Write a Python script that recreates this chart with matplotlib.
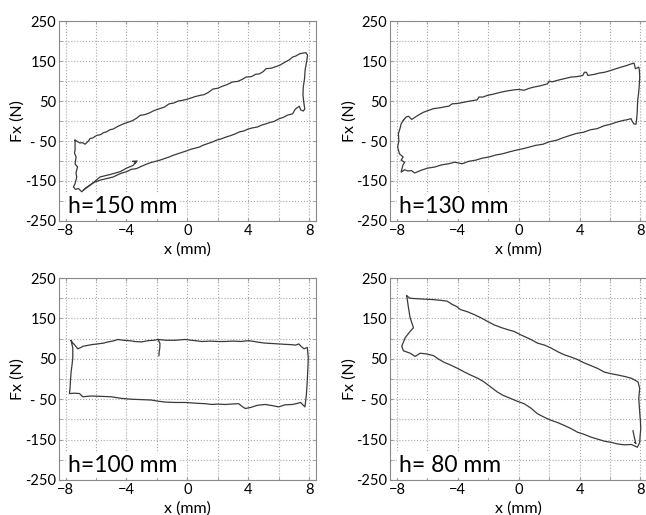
"""Fx - x hysteresis loops for four heights h (2 x 2 panels)."""
import matplotlib.pyplot as plt
from matplotlib.ticker import MultipleLocator, FixedLocator

plt.rcParams["font.family"] = ["Lato", "DejaVu Sans"]

# ---------------------------------------------------------------------------
# data: (x in mm, Fx in N) along each loop
# ---------------------------------------------------------------------------
loop_150 = [
    (-7.38, -48), (-7.2, -52), (-7.05, -55), (-6.9, -54), (-6.72, -58), (-6.5, -50),
    (-6.4, -44), (-6.2, -42), (-5.96, -36), (-5.7, -34), (-5.5, -29), (-5.3, -27),
    (-5.1, -22), (-4.87, -20), (-4.6, -14), (-4.43, -11), (-4.2, -7), (-3.9, -3),
    (-3.6, 1), (-3.3, 8), (-3.12, 14), (-2.8, 16), (-2.5, 20), (-2.2, 26),
    (-1.81, 31), (-1.5, 35), (-1.2, 43), (-0.9, 45), (-0.6, 50), (-0.3, 52),
    (-0.07, 54), (0.2, 57), (0.5, 61), (0.81, 64), (1.1, 66), (1.4, 72),
    (1.68, 80), (2.0, 82), (2.3, 87), (2.6, 91), (2.99, 98), (3.3, 99),
    (3.6, 104), (3.86, 110), (4.2, 111), (4.5, 117), (4.74, 118), (5.0, 124),
    (5.17, 131), (5.5, 132), (5.8, 136), (6.05, 139), (6.4, 147), (6.7, 153),
    (6.92, 160), (7.15, 163), (7.36, 168), (7.6, 170), (7.79, 171), (7.9, 165),
    (7.85, 150), (7.75, 130), (7.7, 105), (7.62, 85), (7.6, 65), (7.66, 45),
    (7.72, 30), (7.62, 25), (7.45, 28), (7.36, 37),
    (7.1, 30), (6.92, 18), (6.6, 15), (6.3, 9), (6.05, 6), (5.7, -1),
    (5.4, -4), (5.17, -7), (4.9, -10), (4.6, -15), (4.3, -17), (4.0, -20),
    (3.7, -25), (3.43, -27), (3.1, -33), (2.8, -37), (2.55, -40), (2.2, -45),
    (1.9, -48), (1.68, -52), (1.3, -57), (1.0, -61), (0.81, -65), (0.5, -68),
    (0.2, -71), (-0.07, -75), (-0.4, -79), (-0.7, -83), (-0.94, -86), (-1.2, -90),
    (-1.5, -94), (-1.81, -98), (-2.1, -101), (-2.4, -104), (-2.69, -108), (-3.0, -113),
    (-3.34, -119), (-3.7, -121), (-4.0, -127), (-4.3, -130), (-4.6, -135), (-4.87, -140),
    (-5.2, -143), (-5.5, -146), (-5.74, -148), (-6.1, -153), (-6.4, -160), (-6.7, -168),
    (-6.94, -177), (-7.16, -169), (-7.35, -171), (-7.49, -165),
    (-7.38, -157), (-7.27, -140), (-7.32, -130), (-7.27, -123), (-7.22, -115),
    (-7.38, -107), (-7.31, -90), (-7.42, -80), (-7.38, -73), (-7.38, -48),
]
inner_150 = [(-6.83, -173), (-6.3, -158), (-5.74, -140), (-5.1, -134), (-4.43, -127),
             (-4.0, -118), (-3.56, -111), (-3.38, -102), (-3.6, -101), (-3.3, -100),
             (-3.45, -106)]

loop_130 = [
    (-7.58, 2), (-7.4, 10), (-7.25, 12), (-7.03, 4), (-6.8, 10), (-6.5, 17),
    (-6.26, 22), (-5.9, 27), (-5.6, 31), (-5.2, 33), (-4.8, 36), (-4.6, 37),
    (-4.38, 43), (-4.0, 44), (-3.61, 47), (-3.2, 50), (-2.73, 53), (-2.62, 60),
    (-2.35, 60), (-2.07, 64), (-1.7, 67), (-1.19, 72), (-0.8, 75), (-0.31, 78),
    (0.0, 79), (0.35, 77), (0.7, 82), (1.01, 85), (1.4, 88), (1.89, 93),
    (2.0, 100), (2.2, 98), (2.56, 102), (3.0, 106), (3.44, 110), (3.8, 111),
    (4.21, 114), (4.32, 122), (4.45, 122), (4.54, 114), (5.0, 117), (5.3, 120),
    (5.64, 122), (6.0, 126), (6.4, 131), (6.74, 135), (7.1, 139), (7.4, 143),
    (7.58, 145), (7.67, 131), (7.8, 133), (7.89, 135), (7.93, 127),
    (7.95, 110), (7.93, 93), (7.88, 70), (7.82, 52), (7.8, 35), (7.78, 18),
    (7.75, 5), (7.71, -8), (7.56, -7), (7.45, 0), (7.38, 6),
    (7.1, 3), (6.93, 2), (6.5, -2), (6.04, -8), (5.6, -12), (5.16, -19),
    (4.7, -22), (4.27, -28), (3.8, -31), (3.38, -36), (2.9, -42), (2.49, -48),
    (2.0, -52), (1.6, -58), (1.1, -61), (0.71, -65), (0.3, -69), (-0.18, -73),
    (-0.6, -77), (-1.07, -82), (-1.5, -85), (-1.96, -90), (-2.4, -93), (-2.84, -98),
    (-3.3, -101), (-3.73, -107), (-4.2, -103), (-4.62, -107), (-5.1, -110), (-5.51, -115),
    (-6.0, -118), (-6.4, -123), (-6.84, -130), (-7.05, -124), (-7.29, -125), (-7.5, -122),
    (-7.73, -128),
    (-7.62, -111), (-7.5, -103), (-7.73, -98), (-7.6, -90), (-7.84, -82), (-7.96, -65),
    (-7.88, -50), (-7.91, -32), (-7.8, -18), (-7.73, -7), (-7.58, 2),
]

loop_100 = [
    (-7.64, 95), (-7.5, 88), (-7.42, 85), (-7.2, 75), (-7.0, 78), (-6.87, 81),
    (-6.6, 83), (-6.32, 85), (-5.9, 87), (-5.5, 89), (-5.22, 92), (-4.9, 94),
    (-4.56, 98), (-4.2, 96), (-3.8, 95), (-3.46, 93), (-3.0, 92), (-2.58, 95),
    (-2.2, 96), (-1.92, 98), (-1.4, 96), (-0.81, 96), (-0.5, 97), (-0.15, 98),
    (0.3, 96), (0.95, 93), (1.5, 94), (2.0, 93), (2.49, 93), (3.0, 94),
    (3.5, 93), (4.03, 95), (4.4, 93), (4.69, 91), (5.1, 89), (5.57, 88),
    (6.0, 87), (6.4, 86), (6.89, 85), (7.1, 84), (7.33, 87), (7.5, 80),
    (7.67, 75), (7.89, 78),
    (7.95, 52), (7.92, 25), (7.89, 2), (7.86, -20), (7.82, -40), (7.73, -69),
    (7.44, -58), (7.15, -61), (6.89, -63), (6.4, -64), (6.01, -69), (5.6, -66),
    (5.13, -63), (4.6, -65), (4.2, -70), (3.81, -73), (3.6, -68), (3.37, -61),
    (2.9, -62), (2.49, -63), (2.0, -62), (1.6, -63), (1.17, -61), (0.6, -60),
    (-0.15, -58), (-0.8, -58), (-1.48, -57), (-1.9, -55), (-2.36, -52), (-3.0, -51),
    (-3.68, -50), (-4.3, -48), (-5.0, -44), (-5.6, -43), (-6.32, -42), (-6.87, -44),
    (-7.09, -36), (-7.4, -35), (-7.75, -36), (-7.71, -23),
    (-7.68, -3), (-7.64, 18), (-7.58, 35), (-7.53, 52), (-7.53, 77), (-7.64, 95),
]
inner_100 = [(-1.92, 98), (-1.8, 88), (-1.81, 77), (-1.85, 68), (-1.87, 58)]

loop_80 = [
    (-7.36, 206), (-7.14, 200), (-6.7, 199), (-6.26, 198), (-5.7, 197), (-5.15, 195),
    (-4.71, 193), (-4.38, 185), (-4.1, 180), (-3.83, 172), (-3.4, 167), (-2.95, 160),
    (-2.5, 152), (-2.07, 143), (-1.6, 134), (-1.19, 128), (-0.7, 122), (-0.31, 118),
    (0.1, 110), (0.57, 102), (0.9, 96), (1.23, 89), (1.7, 84), (2.11, 77),
    (2.6, 67), (3.0, 60), (3.4, 55), (3.88, 48), (4.3, 40), (4.76, 33),
    (5.2, 26), (5.64, 17), (6.1, 13), (6.52, 10), (7.0, 6), (7.4, 2),
    (7.84, -7), (7.95, -23),
    (7.89, -48), (7.92, -65), (7.95, -82), (8.0, -105), (8.02, -123), (7.98, -140),
    (7.95, -157), (7.8, -169),
    (7.4, -162), (6.95, -163), (6.52, -161), (6.1, -157), (5.64, -154), (5.2, -149),
    (4.76, -144), (4.3, -137), (3.88, -132), (3.4, -122), (3.0, -115), (2.5, -107),
    (2.11, -102), (1.7, -95), (1.23, -86), (0.8, -72), (0.35, -61), (-0.1, -55),
    (-0.53, -48), (-1.0, -41), (-1.41, -32), (-1.9, -18), (-2.29, -7), (-2.7, 2),
    (-3.17, 10), (-3.6, 18), (-4.05, 27), (-4.5, 35), (-4.93, 42), (-5.3, 50),
    (-5.6, 58), (-6.04, 62), (-6.48, 64), (-6.81, 56), (-7.14, 64), (-7.58, 70),
    (-7.69, 81),
    (-7.47, 102), (-7.14, 118), (-6.92, 127), (-7.14, 152), (-7.25, 177), (-7.36, 206),
]
inner_80 = [(7.51, -128), (7.6, -145), (7.7, -160), (7.62, -157)]

LABELS = ["h=150 mm", "h=130 mm", "h=100 mm", "h= 80 mm"]
CURVES = [[loop_150, inner_150], [loop_130], [loop_100, inner_100], [loop_80, inner_80]]
X_TICKS = [-8, -4, 0, 4, 8]
Y_TICKS = [250, 150, 50, -50, -150, -250]
Y_TICKLABELS = ["250", "150", "50", "- 50", "-150", "-250"]

# axes boxes in figure fractions [left, bottom, width, height]
BOXES = [
    [0.091, 0.571, 0.398, 0.388],
    [0.604, 0.571, 0.398, 0.388],
    [0.091, 0.068, 0.398, 0.392],
    [0.604, 0.068, 0.398, 0.392],
]

fig = plt.figure(figsize=(6.46, 5.15), dpi=100)

for label, curves, box in zip(LABELS, CURVES, BOXES):
    ax = fig.add_axes(box)
    for pts in curves:
        xs, fs = zip(*pts)
        ax.plot(xs, fs, color="#3a3a3a", lw=0.9)
    ax.set_xlim(-8.45, 8.45)
    ax.set_ylim(-250, 250)
    ax.xaxis.set_major_locator(FixedLocator(X_TICKS))
    ax.xaxis.set_minor_locator(MultipleLocator(2))
    ax.set_yticks(Y_TICKS)
    ax.set_yticklabels(Y_TICKLABELS)
    ax.yaxis.set_minor_locator(MultipleLocator(50))
    ax.grid(which="both", ls=":", color="#a8a8a8", lw=0.8)
    ax.set_axisbelow(True)
    ax.tick_params(which="both", direction="in", length=2.5, color="#999",
                   labelsize=10.5, pad=2, top=True, right=True)
    for s in ax.spines.values():
        s.set_color("#8a8a8a")
    ax.set_xlabel("x (mm)", fontsize=11.5, labelpad=3)
    ax.set_ylabel("Fx (N)", fontsize=11.5, labelpad=0)
    ax.text(0.035, 0.02, label, transform=ax.transAxes, fontsize=16.5,
            ha="left", va="bottom",
            bbox=dict(facecolor="white", edgecolor="none", pad=1.5))

fig.savefig("out.png", dpi=100)
